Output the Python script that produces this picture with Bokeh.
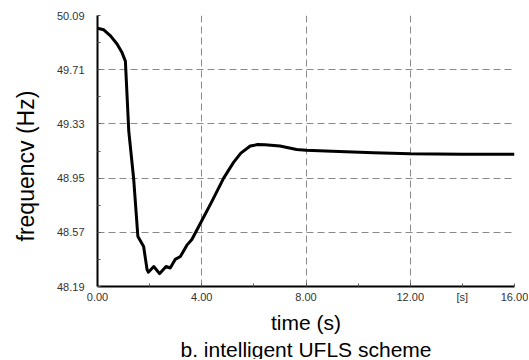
from bokeh.plotting import figure
from bokeh.models import FixedTicker, Range1d, Title
from bokeh.embed import file_html
from bokeh.resources import INLINE

# data
time_s = [0.0, 0.24, 0.50, 0.75, 0.94, 1.07, 1.20, 1.39, 1.55, 1.77, 1.90, 1.95,
          2.16, 2.38, 2.63, 2.79, 2.98, 3.18, 3.43, 3.62, 3.94, 4.40, 4.84,
          5.22, 5.50, 5.86, 6.15, 6.43, 7.00, 7.64, 8.00, 9.00, 10.60, 12.00,
          14.00, 16.00]
freq_hz = [50.00, 49.99, 49.947, 49.89, 49.83, 49.77, 49.28, 48.94, 48.54, 48.47, 48.31, 48.29,
           48.33, 48.28, 48.33, 48.32, 48.38, 48.40, 48.48, 48.52, 48.63, 48.79, 48.95,
           49.06, 49.125, 49.175, 49.185, 49.184, 49.175, 49.15, 49.145, 49.138, 49.128, 49.12,
           49.118, 49.117]

x_ticks = [0, 4, 8, 12, 14, 16]
x_tick_labels = {0: "0.00", 4: "4.00", 8: "8.00", 12: "12.00", 14: "[s]", 16: "16.00"}
x_grid = [0, 4, 8, 12, 16]
x_minor = [2, 6, 10]
y_ticks = [48.19, 48.57, 48.95, 49.33, 49.71, 50.09]
y_minor = [48.38, 48.76, 49.14, 49.52, 49.90]
x_title = "time (s)"
y_title = "frequencv (Hz)"
caption = "b. intelligent UFLS scheme"

p = figure(width=528, height=359, output_backend="svg", toolbar_location=None,
           x_range=Range1d(0, 16), y_range=Range1d(y_ticks[0], y_ticks[-1]),
           min_border_left=96, min_border_right=14, min_border_top=15, min_border_bottom=73)
p.outline_line_color = None
p.background_fill_color = "white"
p.border_fill_color = "white"

p.line(time_s, freq_hz, line_color="black", line_width=3, line_join="round")

# axes
p.xaxis.ticker = FixedTicker(ticks=x_ticks, minor_ticks=x_minor)
p.xaxis.major_label_overrides = x_tick_labels
p.yaxis.ticker = FixedTicker(ticks=y_ticks, minor_ticks=y_minor)
p.yaxis.major_label_overrides = {v: f"{v:.2f}" for v in y_ticks}
for ax in (p.xaxis[0], p.yaxis[0]):
    ax.axis_line_color = "black"
    ax.axis_line_width = 2
    ax.major_tick_out = 0
    ax.major_tick_in = 3
    ax.minor_tick_out = 0
    ax.minor_tick_in = 3
    ax.major_tick_line_color = "#555555"
    ax.minor_tick_line_color = "#555555"
    ax.major_label_text_font = "Liberation Sans"
    ax.major_label_text_font_size = "11px"
    ax.major_label_text_color = "#333333"
    ax.axis_label_text_font = "Liberation Sans"
    ax.axis_label_text_font_style = "normal"
    ax.axis_label_text_color = "black"
p.xaxis.major_label_standoff = 4
p.yaxis.major_label_standoff = 13
p.xaxis.axis_label = x_title
p.xaxis.axis_label_text_font_size = "21px"
p.xaxis.axis_label_standoff = 5

# grid
p.xgrid.ticker = FixedTicker(ticks=x_grid)
p.ygrid.ticker = FixedTicker(ticks=y_ticks)
for g in (p.xgrid[0], p.ygrid[0]):
    g.grid_line_color = "#8a8a8a"
    g.grid_line_dash = "7 4"
    g.grid_line_width = 1

p.add_layout(Title(text=y_title, align="left", offset=45, standoff=25,
                   vertical_align="top",
                   text_font="Liberation Sans", text_font_size="23px",
                   text_font_style="normal", text_color="black"), "left")
p.add_layout(Title(text=caption, align="center", standoff=-2,
                   text_font="Liberation Sans", text_font_size="21px",
                   text_font_style="normal", text_color="black"), "below")

open("out.html", "w").write(file_html(p, INLINE))
